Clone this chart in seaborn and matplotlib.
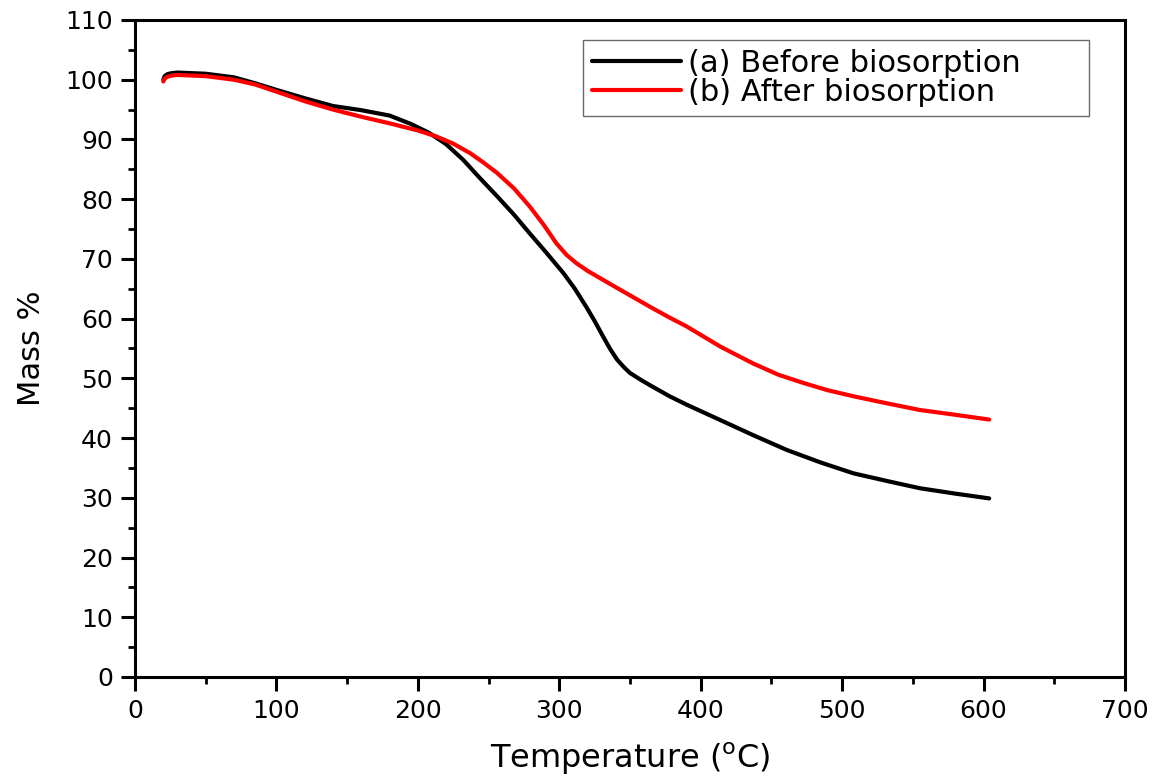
import matplotlib
matplotlib.use("Agg")
import matplotlib.pyplot as plt
import seaborn as sns
import pandas as pd
from matplotlib.ticker import MultipleLocator

# Data
temp_before = [20, 21, 23, 26, 30, 50, 70, 85, 100, 120, 140, 160, 180, 195, 208, 220, 232,
               244, 256, 268, 279, 291, 303, 311, 319, 325, 331, 336, 341, 346, 350, 358, 366, 378, 390,
               402, 414, 437, 461, 485, 508, 532, 555, 580, 604]
mass_before = [100.0, 100.6, 100.95, 101.1, 101.2, 101.0, 100.4, 99.4, 98.3, 96.9, 95.6, 94.9, 94.0, 92.6, 91.1, 89.2, 86.6,
               83.5, 80.5, 77.4, 74.3, 71.0, 67.6, 65.0, 62.0, 59.6, 57.0, 54.9, 53.1, 51.8, 50.9, 49.7, 48.6, 47.0, 45.6,
               44.3, 43.0, 40.5, 38.0, 35.9, 34.1, 32.8, 31.6, 30.7, 29.9]

temp_after = [20, 21, 23, 26, 30, 50, 70, 85, 100, 120, 140, 160, 180, 200, 213, 225, 237,
              246, 256, 268, 279, 289, 298, 305, 312, 320, 336, 350, 364, 377, 390, 402, 414, 437, 455, 473, 490,
              508, 530, 555, 580, 604]
mass_after = [99.7, 100.2, 100.5, 100.7, 100.8, 100.6, 100.0, 99.2, 98.0, 96.4, 95.0, 93.8, 92.7, 91.5, 90.5, 89.3, 87.7,
              86.2, 84.4, 81.8, 78.8, 75.7, 72.6, 70.7, 69.3, 68.0, 65.8, 63.9, 62.0, 60.3, 58.7, 57.0, 55.3, 52.5, 50.6, 49.2, 48.0,
              47.0, 45.9, 44.7, 43.9, 43.1]

labels = ["(a) Before biosorption", "(b) After biosorption"]
colors = ["#000000", "#ff0000"]

df = pd.concat([
    pd.DataFrame({"Temperature": temp_before, "Mass": mass_before, "Sample": labels[0]}),
    pd.DataFrame({"Temperature": temp_after, "Mass": mass_after, "Sample": labels[1]}),
], ignore_index=True)

sns.set_theme(style="ticks")
plt.rcParams["font.family"] = ["DejaVu Sans"]
plt.rcParams["mathtext.fontset"] = "dejavusans"
plt.rcParams["text.color"] = "black"
plt.rcParams["axes.labelcolor"] = "black"
plt.rcParams["xtick.color"] = "black"
plt.rcParams["ytick.color"] = "black"

fig = plt.figure(figsize=(11.57, 7.84), dpi=100)
ax = fig.add_axes([0.1167, 0.1365, 0.8556, 0.838])

sns.lineplot(data=df, x="Temperature", y="Mass", hue="Sample",
             palette=dict(zip(labels, colors)), estimator=None, sort=False,
             linewidth=3.0, ax=ax)

ax.set_xlim(0, 700)
ax.set_ylim(0, 110)
ax.xaxis.set_major_locator(MultipleLocator(100))
ax.xaxis.set_minor_locator(MultipleLocator(50))
ax.yaxis.set_major_locator(MultipleLocator(10))
ax.yaxis.set_minor_locator(MultipleLocator(5))

for s in ax.spines.values():
    s.set_linewidth(2.2)
    s.set_color("black")

ax.tick_params(which="major", direction="out", length=10, width=2.2, labelsize=18,
               colors="black", top=False, right=False, pad=6)
ax.tick_params(which="minor", direction="out", length=5, width=2.0,
               top=False, right=False)

ax.set_xlabel(r"Temperature ($\mathregular{^o}$C)", fontsize=23, labelpad=13)
ax.set_ylabel("Mass %", fontsize=22, labelpad=14)

leg = ax.legend(loc="upper left", bbox_to_anchor=(0.4525, 0.8540, 0.5111, 0.1156),
                mode="expand", borderaxespad=0,
                fontsize=22, handlelength=2.9, handletextpad=0.25, labelspacing=0.0,
                frameon=True, fancybox=False, borderpad=0.3)
leg.get_frame().set_edgecolor("#444444")
leg.get_frame().set_linewidth(1.0)
for line in leg.get_lines():
    line.set_linewidth(3.0)

fig.savefig("out.png", dpi=100)
